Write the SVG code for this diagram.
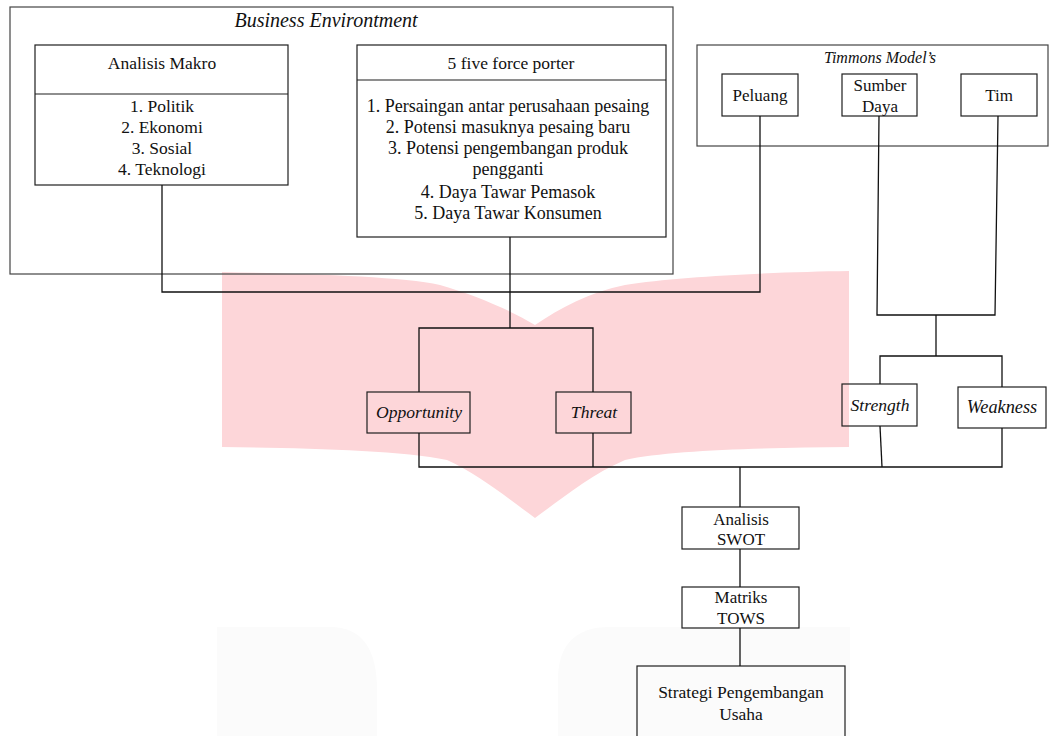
<svg xmlns="http://www.w3.org/2000/svg" width="1051" height="736" viewBox="0 0 1051 736" font-family="'Liberation Serif', 'DejaVu Serif', serif">
<style>
.bx{fill:none;stroke:#1e1e1e;stroke-width:1.2}
.bg{fill:none;stroke:#444;stroke-width:1.2}
.c{fill:none;stroke:#111;stroke-width:1.3}
text{font-family:'Liberation Serif','DejaVu Serif',serif;font-size:17px;fill:#111;text-anchor:middle}
.it{font-style:italic;font-size:17.6px}
.lg{font-size:17.5px}
.ff{font-size:18px}
</style>
<rect width="1051" height="736" fill="#ffffff"/>
<g id="watermark">
<path d="M217,736 L217,627 L330,627 Q377,627 377,690 L377,736 Z" fill="#fbfbfb"/>
<path d="M558,736 L558,680 Q558,627 610,627 L850,627 L850,736 Z" fill="#fbfbfb"/>
<path d="M222,272 C300,274 400,276 440,285 C475,295 510,310 535,325 C560,308 590,292 625,285 C680,276 780,272 849,271 L849,447 C760,448 670,450 625,460 C590,475 560,500 535,518 C510,500 480,475 447,460 C400,450 300,448 222,447 Z" fill="#fdd6d9"/>
</g>
<g id="business-environment">
<rect class="bg" x="10" y="7" width="663" height="267"/>
<text class="it" x="326" y="27" style="font-size:20px">Business Environtment</text>
</g>
<g id="analisis-makro">
<rect class="bx" x="35" y="45" width="253" height="140"/>
<line class="bx" x1="35" y1="94" x2="288" y2="94"/>
<text class="lg" x="162" y="69">Analisis Makro</text>
<text class="lg" x="162" y="112">1. Politik</text>
<text class="lg" x="162" y="133">2. Ekonomi</text>
<text class="lg" x="162" y="154">3. Sosial</text>
<text class="lg" x="162" y="175">4. Teknologi</text>
</g>
<g id="five-force">
<rect class="bx" x="357" y="45" width="309" height="192"/>
<line class="bx" x1="357" y1="80" x2="666" y2="80"/>
<text class="lg" x="511" y="69">5 five force porter</text>
<text class="ff" x="508" y="112">1. Persaingan antar perusahaan pesaing</text>
<text class="ff" x="508" y="133">2. Potensi masuknya pesaing baru</text>
<text class="ff" x="508" y="154">3. Potensi pengembangan produk</text>
<text class="ff" x="508" y="175">pengganti</text>
<text class="ff" x="508" y="198">4. Daya Tawar Pemasok</text>
<text class="ff" x="508" y="219">5. Daya Tawar Konsumen</text>
</g>
<g id="timmons">
<rect class="bg" x="697" y="45" width="351" height="101"/>
<text class="it" x="880" y="63" style="font-size:16px">Timmons Model’s</text>
</g>
<g id="peluang">
<rect class="bx" x="722" y="74" width="76" height="42"/>
<text x="760" y="101">Peluang</text>
</g>
<g id="sumber-daya">
<rect class="bx" x="842" y="74" width="75" height="42"/>
<text x="880" y="91">Sumber</text>
<text x="880" y="112">Daya</text>
</g>
<g id="tim">
<rect class="bx" x="961" y="74" width="76" height="42"/>
<text x="999" y="101">Tim</text>
</g>
<g id="opportunity">
<rect class="bx" x="367" y="392" width="103" height="41"/>
<text class="it" x="419" y="418">Opportunity</text>
</g>
<g id="threat">
<rect class="bx" x="556" y="392" width="75" height="41"/>
<text class="it" x="594" y="418">Threat</text>
</g>
<g id="strength">
<rect class="bx" x="842" y="384" width="75" height="42"/>
<text class="it" x="880" y="411">Strength</text>
</g>
<g id="weakness">
<rect class="bx" x="958" y="387" width="88" height="41"/>
<text class="it" x="1002" y="413" style="font-size:18.3px">Weakness</text>
</g>
<g id="analisis-swot">
<rect class="bx" x="682" y="507" width="117" height="42"/>
<text x="741" y="525">Analisis</text>
<text x="741" y="545">SWOT</text>
</g>
<g id="matriks-tows">
<rect class="bx" x="682" y="587" width="117" height="41"/>
<text x="741" y="603">Matriks</text>
<text x="741" y="624">TOWS</text>
</g>
<g id="strategi">
<rect class="bx" x="637" y="666" width="208" height="80"/>
<text class="lg" x="741" y="698">Strategi Pengembangan</text>
<text class="lg" x="741" y="720">Usaha</text>
</g>
<g id="connectors">
<polyline class="c" points="162,185 162,292 760,292 760,116"/>
<line class="c" x1="510" y1="237" x2="510" y2="328"/>
<polyline class="c" points="419,392 419,328 593,328 593,392"/>
<polyline class="c" points="419,433 419,467 1002,467 1002,428"/>
<line class="c" x1="593" y1="433" x2="593" y2="467"/>
<line class="c" x1="880" y1="426" x2="882" y2="467"/>
<polyline class="c" points="879,116 877,315 995,315 998,116"/>
<line class="c" x1="936" y1="315" x2="936" y2="356"/>
<polyline class="c" points="880,384 880,356 1002,356 1002,387"/>
<line class="c" x1="740" y1="467" x2="740" y2="507"/>
<line class="c" x1="740" y1="549" x2="740" y2="587"/>
<line class="c" x1="740" y1="628" x2="740" y2="666"/>
</g>
</svg>
